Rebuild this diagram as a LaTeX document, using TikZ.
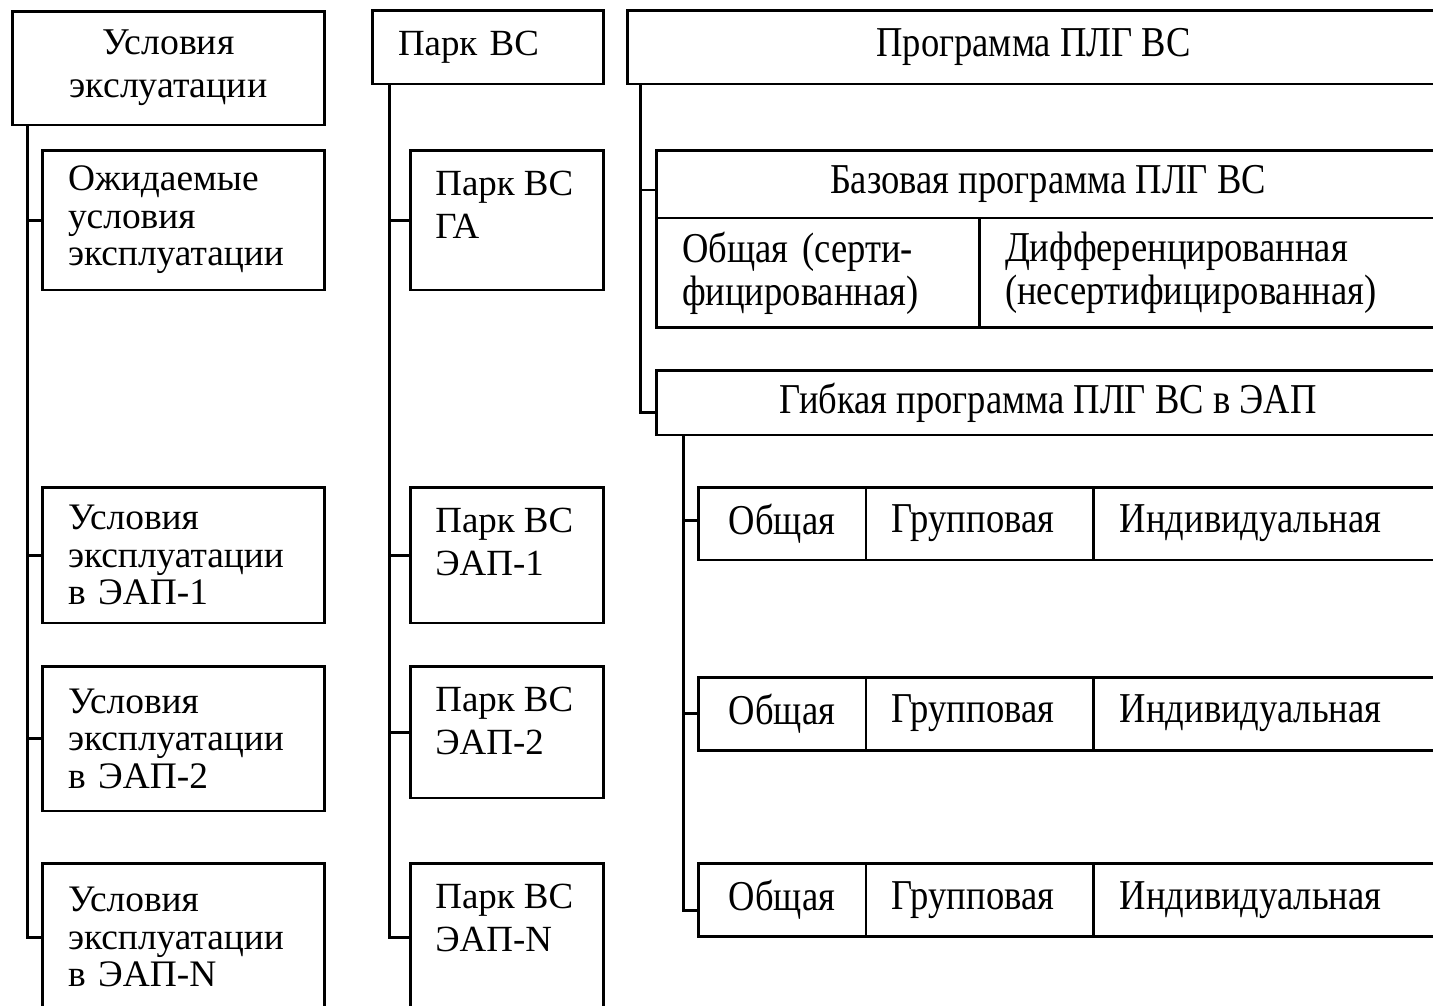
\documentclass[tikz,border=0pt]{standalone}
\usepackage{fontspec}
\setmainfont{Liberation Serif}
\newfontfamily\narrowfont[FakeStretch=0.86]{Liberation Serif}
\usetikzlibrary{positioning}

\begin{document}
\begin{tikzpicture}[
    x=0.02cm, y=-0.02cm,
    frame/.style={draw, line width=1.7pt, outer sep=0pt, inner sep=0pt},
    box/.style={frame, inner xsep=0.52cm, align=left, font=\fontsize{21.3}{21.3}\selectfont},
    head/.style={frame, align=center, font=\fontsize{21.5}{24.5}\selectfont},
    txt/.style={inner sep=0pt, align=left, anchor=north west, font=\fontsize{21}{24.5}\selectfont},
    prog/.style={frame, align=center, font=\narrowfont\fontsize{24.2}{24.5}\selectfont},
    cell/.style={prog, inner xsep=0.52cm, align=left},
    link/.style={line width=1.7pt},
]
\useasboundingbox (0,0) rectangle (1433,1005);

% Operating conditions
\node[head, minimum width=6.26cm, minimum height=2.28cm] (cond) at (168.5,68) {Условия\\экслуатации};
\node[box, text width=4.62cm, minimum height=2.8cm] (cexp) at (183.5,220) {Ожидаемые\\условия\\эксплуатации};
\node[box, text width=4.62cm, minimum height=2.72cm] (c1) at (183.5,555) {Условия\\эксплуатации\\в ЭАП-1};
\node[box, text width=4.62cm, minimum height=2.9cm] (c2) at (183.5,738.5) {Условия\\эксплуатации\\в ЭАП-2};
\node[box, text width=4.62cm, minimum height=2.96cm] (cn) at (183.5,937) {Условия\\эксплуатации\\в ЭАП-N};

% Fleet
\node[box, text width=3.6cm, minimum height=1.48cm, font=\fontsize{21}{24.5}\selectfont] (park) at (488,47) {Парк ВС};
\node[frame, minimum width=3.88cm, minimum height=2.8cm] (pga) at (507,220) {};
\node[frame, minimum width=3.88cm, minimum height=2.72cm] (p1) at (507,555) {};
\node[frame, minimum width=3.88cm, minimum height=2.64cm] (p2) at (507,732) {};
\node[frame, minimum width=3.88cm, minimum height=2.96cm] (pn) at (507,937) {};
\node[txt] (pgat) at ([shift={(25,21)}]pga.north west) {Парк ВС\\ГА};
\node[txt] (p1t) at ([shift={(25,21)}]p1.north west) {Парк ВС\\ЭАП-1};
\node[txt] (p2t) at ([shift={(25,21)}]p2.north west) {Парк ВС\\ЭАП-2};
\node[txt] (pnt) at ([shift={(25,21)}]pn.north west) {Парк ВС\\ЭАП-N};

% Maintenance programme
\node[prog, minimum width=16.26cm, minimum height=1.48cm] (plg) at (1033.5,47) {Программа ПЛГ ВС};
\node[prog, minimum width=15.68cm, minimum height=1.36cm] (base) at (1048,184) {Базовая программа ПЛГ ВС};
\node[cell, text width=5.42cm, minimum height=2.2cm, anchor=north west] (bgen) at (base.south west) {Общая (серти-\\фицированная)};
\node[cell, text width=8.18cm, minimum height=2.2cm, right=0 of bgen] (bdiff) {Дифференцированная\\(несертифицированная)};
\node[prog, minimum width=15.68cm, minimum height=1.3cm] (flex) at (1048,402.5) {Гибкая программа ПЛГ ВС в ЭАП};

\foreach \i/\y in {1/523.5, 2/713.5, 3/900} {
  \node[prog, minimum width=3.36cm, minimum height=1.46cm] (gen\i) at (782,\y) {Общая};
  \node[cell, text width=3.52cm, minimum height=1.46cm, right=0 of gen\i] (grp\i) {Групповая};
  \node[cell, text width=5.88cm, minimum height=1.46cm, right=0 of grp\i] (ind\i) {Индивидуальная};
}

% Trunks
\coordinate (t1) at ([xshift=0.3cm]cond.south west);
\coordinate (t2) at ([xshift=0.34cm]park.south west);
\coordinate (t3) at ([xshift=0.26cm]plg.south west);
\coordinate (t4) at ([xshift=0.54cm]flex.south west);

\draw[link] (t1) |- (cn.west);
\foreach \n in {cexp,c1,c2} \draw[link] (\n.west) -- (\n.west -| t1);
\draw[link] (t2) |- (pn.west);
\foreach \n in {pga,p1,p2} \draw[link] (\n.west) -- (\n.west -| t2);
\draw[link] (t3) |- ([yshift=-0.2cm]flex.west);
\draw[link] ([yshift=-0.12cm]base.west) -- ([yshift=-0.12cm]base.west -| t3);
\draw[link] (t4) |- ([yshift=-0.2cm]gen3.west);
\draw[link] ([yshift=0.06cm]gen1.west) -- ([yshift=0.06cm]gen1.west -| t4);
\draw[link] (gen2.west) -- (gen2.west -| t4);

\end{tikzpicture}
\end{document}
